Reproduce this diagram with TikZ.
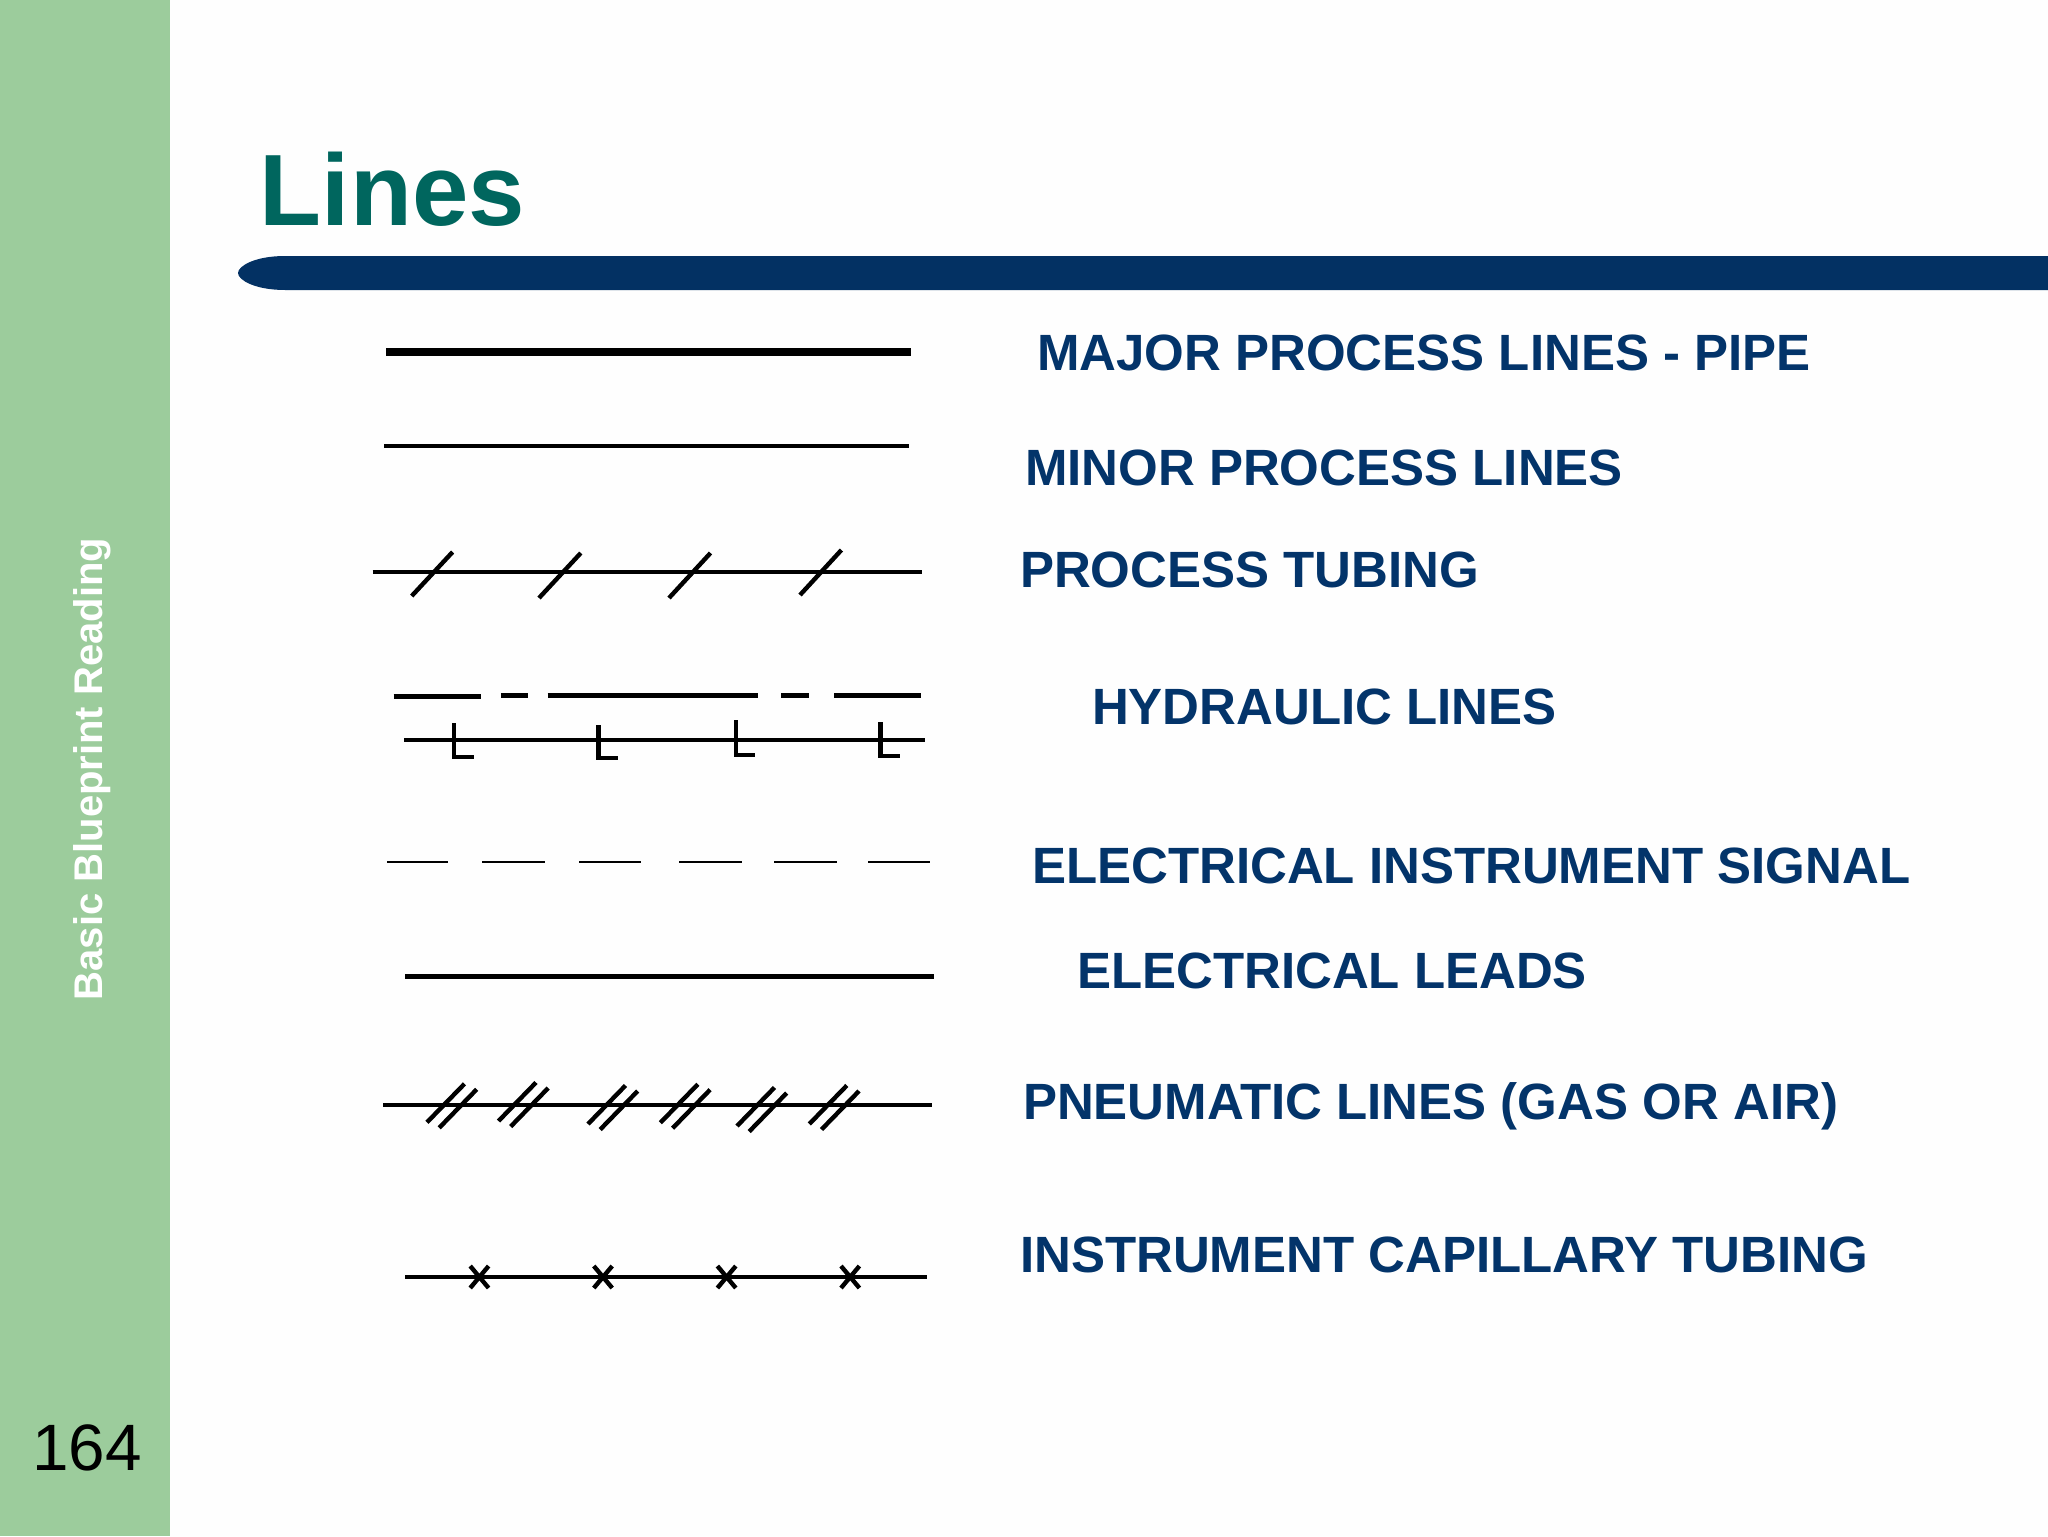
\documentclass[tikz,border=0pt]{standalone}
\usepackage{fontspec}
\setmainfont{Liberation Sans}
\definecolor{sidegreen}{RGB}{156,204,156}
\definecolor{paper}{RGB}{254,254,254}
\definecolor{titleteal}{RGB}{0,102,94}
\definecolor{barblue}{RGB}{3,49,99}
\definecolor{labelblue}{RGB}{3,52,106}
\tikzset{
  lbl/.style={anchor=base west,inner sep=0pt,outer sep=0pt,text=labelblue,font=\fontsize{25.5}{30}\selectfont\bfseries},
  pipe/.style={draw=black,line width=2.2pt},
  thinpipe/.style={draw=black,line width=1pt},
  glyph/.style={draw=black,line width=2.2pt}
}
\begin{document}
\begin{tikzpicture}[x=0.5pt,y=-0.5pt]
\useasboundingbox (0,0) rectangle (2048,1536);
\fill[paper] (0,0) rectangle (2048,1536);
\fill[sidegreen] (0,0) rectangle (170,1536);
\fill[barblue] (2048,256) -- (285,256) .. controls (255,256) and (238,266) .. (238,273) .. controls (238,280) and (255,290) .. (285,290) -- (2048,290) -- cycle;
\node[anchor=base west,inner sep=0pt,text=titleteal,font=\fontsize{50.7}{56}\selectfont\bfseries] (title) at (259.5,225) {Lines};
\node[anchor=base,inner sep=0pt,rotate=90,text=white,font=\fontsize{20}{24}\selectfont\bfseries] (side) at (102,769) {Basic Blueprint Reading};
\node[anchor=base west,inner sep=0pt,text=black,font=\fontsize{32.8}{36}\selectfont] (page) at (32,1470) {164};
\node[lbl] (l1) at (1037,370) {MAJOR PROCESS LINES - PIPE};
\node[lbl] (l2) at (1025,485) {MINOR PROCESS LINES};
\node[lbl] (l3) at (1020,587) {PROCESS TUBING};
\node[lbl] (l4) at (1092,724.5) {HYDRAULIC LINES};
\node[lbl] (l5) at (1032,883) {ELECTRICAL INSTRUMENT SIGNAL};
\node[lbl] (l6) at (1077,988) {ELECTRICAL LEADS};
\node[lbl] (l7) at (1023,1119.5) {PNEUMATIC LINES (GAS OR AIR)};
\node[lbl] (l8) at (1020,1272) {INSTRUMENT CAPILLARY TUBING};
% major / minor
\draw[draw=black,line width=4pt] (386,351.5) -- (911,351.5);
\draw[pipe] (384,446) -- (909,446);
% tubing
\draw[pipe] (372.6,572) -- (921.6,572);
\foreach \a/\b/\c/\d in {411.7/596/452.6/552,539/598/580.8/553,669/598/710.5/553,800/595/841.4/550}
  \draw[glyph] (\a,\b) -- (\c,\d);
% hydraulic
\foreach \a/\b/\y in {393.7/480.5/696,500.8/528.4/695,547.5/758.4/695,781/808.5/695,834/920.6/695}
  \draw[draw=black,line width=2.5pt] (\a,\y) -- (\b,\y);
\draw[pipe] (404.4,740) -- (925.2,740);
\foreach \a/\t/\b/\e in {453.8/723/757/473.7,598.4/725/758/618.3,735.8/720/755/755.3,880.5/722/756/899.6}
  \draw[glyph] (\a,\t) -- (\a,\b) -- (\e,\b);
% electrical signal
\foreach \a/\b in {387/448,482/545,579/641,679/742,774/837,868/930}
  \draw[thinpipe] (\a,862) -- (\b,862);
% leads
\draw[pipe] (405,976.5) -- (934,976.5);
% pneumatic
\draw[pipe] (383,1105) -- (931.7,1105);
\foreach \a/\b in {427/1122.3,498.5/1121,588/1124,660.4/1122.7,737/1126,809.3/1124}{
  \draw[glyph] (\a,\b) -- ++(37.5,-38.5);
  \draw[glyph] (\a+12.2,\b+5.5) -- ++(37.5,-38.5);
}
% capillary
\draw[pipe] (405,1277) -- (927,1277);
\foreach \a in {479.4,603,726.6,850.2}{
  \draw[glyph] (\a-9.2,1266) -- (\a+9.2,1288);
  \draw[glyph] (\a+9.2,1266) -- (\a-9.2,1288);
}
\end{tikzpicture}
\end{document}
